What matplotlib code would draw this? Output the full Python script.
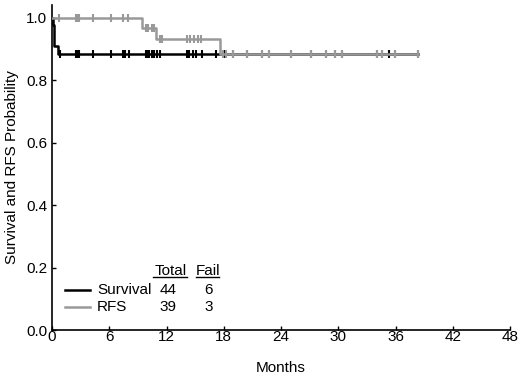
import numpy as np
import matplotlib.pyplot as plt

plt.rcParams['font.family'] = ['Liberation Sans', 'DejaVu Sans']

# step curves (time in months, probability)
surv_t = [0, 0.1, 0.25, 0.6, 38.3]
surv_p = [1.0, 0.977, 0.909, 0.886, 0.886]
surv_cens_t = [0.84, 2.5, 2.66, 2.87, 4.3, 6.2, 7.4, 7.7, 8.1, 9.9, 10.0, 10.2,
               10.5, 10.7, 11.0, 11.3, 14.1, 14.4, 14.8, 15.1, 15.7, 17.2,
               18.0, 19.0, 20.4, 22.0, 22.7, 25.0, 27.1, 28.7, 29.7, 30.4,
               34.1, 34.6, 35.3, 35.9, 38.3]

rfs_t = [0, 9.4, 10.9, 17.6, 38.3]
rfs_p = [1.0, 0.967, 0.932, 0.885, 0.885]
rfs_cens_t = [0.77, 2.5, 2.6, 2.85, 4.3, 6.17, 7.4, 8.0,
              9.9, 10.1, 10.5, 10.7,
              11.3, 11.5, 14.1, 14.5, 14.9, 15.3, 15.6,
              17.9, 18.2, 19.0, 20.4, 22.0, 22.7, 25.0, 27.1, 28.7, 29.7,
              30.4, 34.1, 34.6, 35.9, 38.3]

legend_names = ['Survival', 'RFS']
totals = [44, 39]
fails = [6, 3]
xticks = [0, 6, 12, 18, 24, 30, 36, 42, 48]
yticks = [0.0, 0.2, 0.4, 0.6, 0.8, 1.0]

black = '#000000'
grey = '#999999'
fs = 11


def step_value(ts, ps, t):
    idx = np.searchsorted(ts, t, side='right') - 1
    return ps[idx]


fig = plt.figure(figsize=(5.2, 3.76), dpi=100)
ax = fig.add_axes([0.1, 0.122, 0.881, 0.865])

ax.step(surv_t, surv_p, where='post', color=black, lw=1.8, zorder=3)
ax.plot(surv_cens_t, [step_value(surv_t, surv_p, t) for t in surv_cens_t],
        ls='none', marker='|', ms=6, mew=1.5, color=black, zorder=3)

ax.step(rfs_t, rfs_p, where='post', color=grey, lw=1.8, zorder=4)
ax.plot(rfs_cens_t, [step_value(rfs_t, rfs_p, t) for t in rfs_cens_t],
        ls='none', marker='|', ms=6, mew=1.5, color=grey, zorder=4)

ax.set_xlim(0, 48)
ax.set_ylim(0, 1.042)
ax.set_xticks(xticks)
ax.set_yticks(yticks)
ax.set_yticklabels(['%.1f' % v for v in yticks])
ax.tick_params(direction='in', length=3, labelsize=fs, width=1)
ax.tick_params(axis='x', pad=0)
ax.spines['top'].set_visible(False)
ax.spines['right'].set_visible(False)
ax.spines['left'].set_linewidth(1.2)
ax.spines['bottom'].set_linewidth(1.2)
ax.set_xlabel('Months', fontsize=fs, labelpad=12)
ax.set_ylabel('Survival and RFS Probability', fontsize=fs, labelpad=5)

# legend table
tr = ax.transAxes
ax.text(0.258, 0.182, 'Total', transform=tr, ha='center', va='center', fontsize=fs)
ax.plot([0.22, 0.295], [0.162, 0.162], transform=tr, color=black, lw=1)
ax.text(0.341, 0.182, 'Fail', transform=tr, ha='center', va='center', fontsize=fs)
ax.plot([0.314, 0.364], [0.162, 0.162], transform=tr, color=black, lw=1)
rows_y = [0.123, 0.071]
colors = [black, grey]
for name, tot, fl, yy, c in zip(legend_names, totals, fails, rows_y, colors):
    ax.plot([0.028, 0.083], [yy, yy], transform=tr, color=c, lw=1.8)
    ax.text(0.098, yy, name, transform=tr, ha='left', va='center', fontsize=fs)
    ax.text(0.254, yy, str(tot), transform=tr, ha='center', va='center', fontsize=fs)
    ax.text(0.341, yy, str(fl), transform=tr, ha='center', va='center', fontsize=fs)

fig.savefig('out.png', dpi=100)
